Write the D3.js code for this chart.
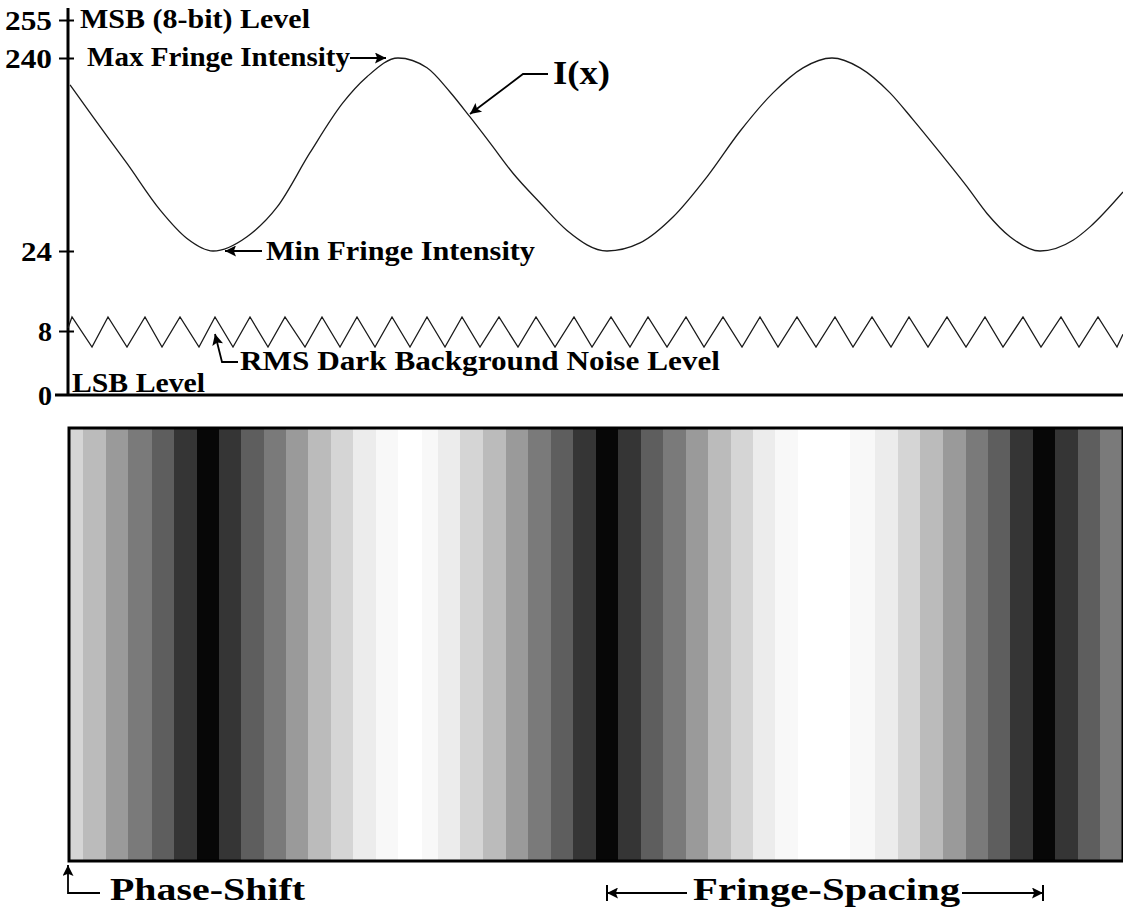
<!DOCTYPE html>
<html>
<head>
<meta charset="utf-8">
<script src="https://cdn.jsdelivr.net/npm/d3@7"></script>
<style>
  body { margin: 0; background: #fff; }
  svg text { font-family: "Liberation Serif", "Times New Roman", serif; font-weight: bold; fill: #000; }
</style>
</head>
<body>
<div id="chart"></div>
<script>
// intensity levels marked on the axis (8-bit camera)
const levelTicks = [0, 8, 24, 240, 255];

// fringe profile I(x), x in detector pixels
const curveX = [2, 25, 59, 92, 119, 145, 179, 209, 242, 275, 299, 330, 359, 382, 402, 422, 445, 472, 499, 539,
                572, 605, 639, 672, 705, 735, 764, 792, 822, 845, 872, 899, 919, 942, 972, 1005, 1022, 1055];
const curveI = [210, 174, 122, 70, 38, 24, 40, 73, 134, 190, 219, 240, 229, 202, 174, 145, 111, 78, 47, 24,
                33, 62, 107, 158, 201, 229, 240, 229, 201, 171, 134, 96, 66, 40, 24, 36, 51, 90];

// dark background noise (zig-zag)
const noiseX = [0, 4, 24, 40, 59, 77, 94, 112, 131, 147, 165, 182, 200, 217, 237, 254, 272, 289, 307, 324,
                342, 359, 377, 394, 412, 431, 450, 468, 487, 506, 524, 543, 562, 580, 599, 618, 636, 655, 674, 692,
                710, 729, 748, 767, 785, 804, 823, 841, 860, 879, 898, 917, 935, 955, 973, 993, 1011, 1030, 1049, 1055];
const noiseI = [8.6, 10.8, 6, 10.8, 6, 10.8, 6, 10.8, 6, 10.8, 6, 10.8, 6, 10.8, 6, 10.8, 6, 10.8, 6, 10.8,
                6, 10.8, 6, 10.8, 6, 10.8, 6, 10.8, 6, 10.8, 6, 10.8, 6, 10.8, 6, 10.8, 6, 10.8, 6, 10.8,
                6, 10.8, 6, 10.8, 6, 10.8, 6, 10.8, 6, 10.8, 6, 10.8, 6, 10.8, 6, 10.8, 6, 10.8, 6, 7.6];

// quantised fringe image: stripe start pixel and grey level
const stripeStart = [2, 15, 38, 60, 84, 106, 129, 151, 173, 196, 218, 240, 263, 285, 308, 330, 354, 370, 392, 415,
                     438, 460, 483, 505, 528, 550, 573, 595, 618, 640, 663, 685, 707, 730, 782, 807, 830, 852, 875, 898,
                     920, 942, 965, 987, 1010, 1032];
const stripeEnd = 1054;
const stripeGray = [213, 187, 154, 122, 94, 53, 7, 53, 94, 122, 154, 187, 213, 236, 248, 255, 248, 236, 213, 187,
                    154, 122, 94, 53, 7, 53, 94, 122, 154, 187, 213, 236, 248, 255, 248, 236, 213, 187, 154, 122,
                    94, 53, 7, 53, 94, 122];

// dark fringe centres used for the spacing marker
const fringeMinima = [539, 975];

const W = 1123, H = 909;

const svg = d3.select("#chart")
    .append("svg")
    .attr("width", W)
    .attr("height", H);

const x = d3.scaleLinear()
    .domain([0, 1055])
    .range([68, 1123]);

// axis is schematic, not linear: piecewise scale through the marked levels
const y = d3.scaleLinear()
    .domain(levelTicks)
    .range([395, 331, 251, 58, 20]);

// arrowhead marker
const defs = svg.append("defs");
defs.append("marker")
    .attr("id", "head")
    .attr("viewBox", "0 0 10 10")
    .attr("refX", 10).attr("refY", 5)
    .attr("markerWidth", 17).attr("markerHeight", 11)
    .attr("markerUnits", "userSpaceOnUse")
    .attr("orient", "auto")
  .append("path")
    .attr("d", "M0,0 L10,5 L0,10 L2,5 Z")
    .attr("fill", "#000");

// stripes
const stripes = stripeStart.map((s, i) => ({
    x0: s,
    x1: i < stripeStart.length - 1 ? stripeStart[i + 1] : stripeEnd,
    g: stripeGray[i]
}));

svg.append("g")
  .selectAll("rect")
  .data(stripes)
  .enter()
  .append("rect")
    .attr("x", d => x(d.x0))
    .attr("y", 429)
    .attr("width", d => x(d.x1) - x(d.x0))
    .attr("height", 432)
    .attr("fill", d => d3.rgb(d.g, d.g, d.g));

svg.append("rect")
    .attr("x", x(0) + 1)
    .attr("y", 428)
    .attr("width", x(stripeEnd) - x(0))
    .attr("height", 433)
    .attr("fill", "none")
    .attr("stroke", "#000")
    .attr("stroke-width", 3);

// Y axis
const tickWidth = {0: 14, 8: 14, 24: 31, 240: 47, 255: 47};
const yAxis = svg.append("g")
    .attr("transform", `translate(${x(0)},0)`)
    .call(d3.axisLeft(y).tickValues(levelTicks).tickSize(0).tickPadding(16));
yAxis.select(".domain").remove();
yAxis.selectAll(".tick text")
    .style("font-size", "27px")
    .style("font-family", "'Liberation Serif', serif")
    .style("font-weight", "bold")
    .attr("textLength", d => tickWidth[d])
    .attr("lengthAdjust", "spacingAndGlyphs")
    .attr("dy", "0.34em");
yAxis.selectAll(".tick")
    .filter(d => d !== 0)
  .append("line")
    .attr("x1", -9).attr("x2", 6)
    .attr("stroke", "#000").attr("stroke-width", 2);

svg.append("line")
    .attr("x1", x(0)).attr("x2", x(0))
    .attr("y1", 8).attr("y2", y(0))
    .attr("stroke", "#000").attr("stroke-width", 3);

// X baseline
svg.append("line")
    .attr("x1", 55).attr("x2", W)
    .attr("y1", y(0)).attr("y2", y(0))
    .attr("stroke", "#000").attr("stroke-width", 3);

// fringe curve
svg.append("path")
    .datum(curveX.map((v, i) => [v, curveI[i]]))
    .attr("fill", "none")
    .attr("stroke", "#1a1a1a")
    .attr("stroke-width", 1.3)
    .attr("d", d3.line()
        .x(d => x(d[0]))
        .y(d => y(d[1]))
        .curve(d3.curveMonotoneX)
    );

// noise
svg.append("path")
    .datum(noiseX.map((v, i) => [v, noiseI[i]]))
    .attr("fill", "none")
    .attr("stroke", "#1a1a1a")
    .attr("stroke-width", 1.3)
    .attr("d", d3.line()
        .x(d => x(d[0]))
        .y(d => y(d[1]))
    );

// labels
function label(txt, lx, ly, size, len) {
    svg.append("text")
        .attr("x", lx)
        .attr("y", ly)
        .attr("textLength", len)
        .attr("lengthAdjust", "spacingAndGlyphs")
        .style("font-size", size + "px")
        .text(txt);
}

function arrow(points) {
    svg.append("path")
        .attr("d", d3.line()(points))
        .attr("fill", "none")
        .attr("stroke", "#000")
        .attr("stroke-width", 1.8)
        .attr("marker-end", "url(#head)");
}

label("MSB (8-bit) Level", 80, 28, 27, 230);
label("Max Fringe Intensity", 87, 66, 27, 263);
arrow([[350, y(240)], [386, y(240)]]);

label("I(x)", 553, 84, 34, 57);
arrow([[548, 74], [523, 74], [470, 114]]);

label("Min Fringe Intensity", 266, 260, 27, 269);
arrow([[262, y(24)], [225, y(24)]]);

label("RMS Dark Background Noise Level", 240, 370, 27, 480);
arrow([[238, 362], [222, 362], [215, 334]]);

label("LSB Level", 72, 392, 27, 133);

// bottom annotations
arrow([[100, 893], [x(0), 893], [x(0), 865]]);
label("Phase-Shift", 110, 900, 32, 195);

const fx0 = x(fringeMinima[0]), fx1 = x(fringeMinima[1]);
arrow([[687, 893], [fx0, 893]]);
arrow([[962, 893], [fx1, 893]]);
[fx0, fx1].forEach(px => {
    svg.append("line")
        .attr("x1", px).attr("x2", px)
        .attr("y1", 885).attr("y2", 901)
        .attr("stroke", "#000").attr("stroke-width", 2);
});
label("Fringe-Spacing", 693, 900, 32, 267);
</script>
</body>
</html>
